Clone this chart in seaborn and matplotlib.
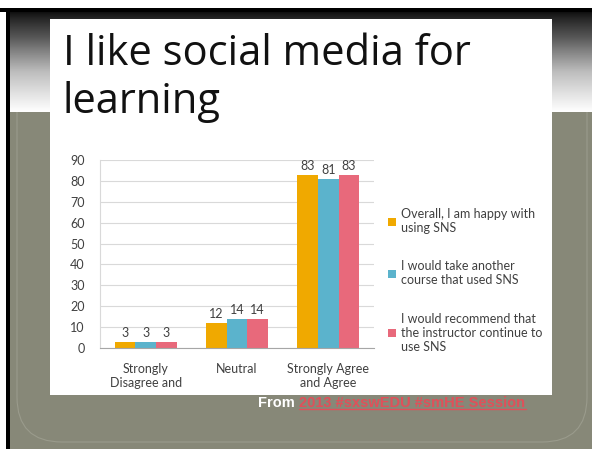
import numpy as np
import pandas as pd
import seaborn as sns
import matplotlib.pyplot as plt
from matplotlib.patches import Rectangle, FancyBboxPatch
from matplotlib.lines import Line2D
from matplotlib.colors import LinearSegmentedColormap

# chart data
categories = ['Strongly\nDisagree and', 'Neutral', 'Strongly Agree\nand Agree']
series = ['Overall, I am happy with\nusing SNS',
          'I would take another\ncourse that used SNS',
          'I would recommend that\nthe instructor continue to\nuse SNS']
happy = [3, 12, 83]
another_course = [3, 14, 81]
recommend = [3, 14, 83]
colors = ['#F0A900', '#5BB3CC', '#E8697B']
yticks = [0, 10, 20, 30, 40, 50, 60, 70, 80, 90]

df = pd.DataFrame({
    'category': categories * 3,
    'series': [series[0]] * 3 + [series[1]] * 3 + [series[2]] * 3,
    'value': happy + another_course + recommend,
})

sns.set_style('white')
plt.rcParams['font.family'] = ['Lato', 'DejaVu Sans']

W, H = 592, 449
fig = plt.figure(figsize=(W / 100, H / 100), dpi=100)
fig.patch.set_facecolor('white')

# slide background, in pixel coordinates
bg = fig.add_axes([0, 0, 1, 1])
bg.set_xlim(0, W)
bg.set_ylim(H, 0)
bg.axis('off')
olive = '#878878'
bg.add_patch(Rectangle((9, 112), W, H, color=olive, lw=0, zorder=0.2))
bg.add_patch(FancyBboxPatch((17, 60), 570, 382, boxstyle='round,pad=0,rounding_size=45',
                            fill=False, ec='#9a9b8c', lw=0.8, zorder=0.3))
grad = np.linspace(0, 1, 200).reshape(-1, 1) ** 0.8
cmap = LinearSegmentedColormap.from_list('g', ['#0a0a0a', '#555555', '#bdbdbd', '#ffffff'])
bg.imshow(grad, extent=(9, W, 112, 11), cmap=cmap, aspect='auto', zorder=0.5)
bg.add_patch(Rectangle((0, 8), W, 3.5, color='black', lw=0, zorder=2))
bg.add_patch(Rectangle((6, 8), 3.5, H, color='black', lw=0, zorder=2))
bg.add_patch(Rectangle((50, 19), 502, 376, color='white', lw=0, zorder=3))

bg.text(63, 65, 'I like social media for', fontsize=30, family='Open Sans',
        color='#111111', zorder=4)
bg.text(63, 113, 'learning', fontsize=30, family='Open Sans', color='#111111', zorder=4)

bg.text(258, 407, 'From ', fontsize=10.5, weight='bold', family='Liberation Sans',
        color='white', zorder=4)
bg.text(299, 407, '2013 #sxswEDU #smHE Session', fontsize=10.5, weight='bold',
        family='Liberation Sans', color='#E0505A', zorder=4)
bg.add_line(Line2D([299, 526], [409, 409], color='#E0505A', lw=1, zorder=4))

# chart
ax = fig.add_axes([100 / W, 1 - 348 / H, 274 / W, 188 / H])
sns.barplot(data=df, x='category', y='value', hue='series', palette=colors,
            width=0.68, saturation=1, ax=ax, edgecolor='none')
ax.set_ylim(0, 90)
ax.set_xlim(-0.5, 2.5)
ax.set_yticks(yticks)
ax.yaxis.grid(True, color='#D9D9D9', lw=0.8)
ax.set_axisbelow(True)
for s in ['top', 'right']:
    ax.spines[s].set_visible(False)
ax.spines['left'].set_color('#D9D9D9')
ax.spines['bottom'].set_color('#A6A6A6')
ax.tick_params(axis='both', length=0, labelsize=9, colors='#404040')
ax.tick_params(axis='y', pad=11)
ax.tick_params(axis='x', pad=11)
ax.set_xlabel('')
ax.set_ylabel('')
for c in ax.containers:
    ax.bar_label(c, padding=2, fontsize=9, color='#404040')

handles, labels = ax.get_legend_handles_labels()
ax.legend(handles, labels, loc='upper left', bbox_to_anchor=(377 / W, 1 - 197 / H),
          bbox_transform=fig.transFigure, frameon=False, fontsize=9,
          handlelength=0.6, handleheight=0.6, handletextpad=0.4,
          labelspacing=2.1, labelcolor='#404040')

fig.savefig('out.png', dpi=100)
